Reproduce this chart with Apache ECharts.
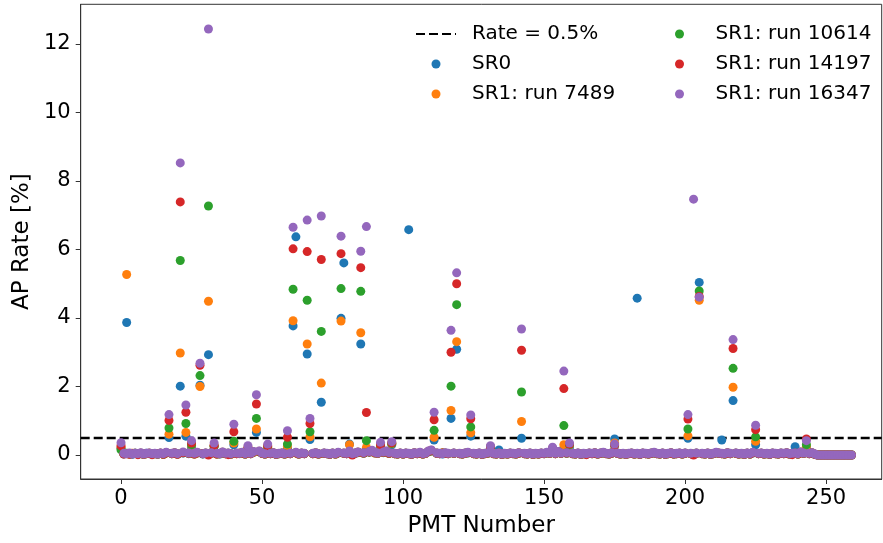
<!DOCTYPE html>
<html>
<head>
<meta charset="utf-8">
<script src="https://cdn.jsdelivr.net/npm/echarts@6/dist/echarts.min.js"></script>
<style>
  html, body { margin: 0; padding: 0; background: #fff; }
  #chart { width: 883px; height: 543px; }
</style>
</head>
<body>
<div id="chart"></div>
<script>
// Afterpulse rate per PMT (index = PMT number, 0..259), in percent.
const seriesNames = ['SR0', 'SR1: run 7489', 'SR1: run 10614', 'SR1: run 14197', 'SR1: run 16347'];
const seriesColors = ['#1f77b4', '#ff7f0e', '#2ca02c', '#d62728', '#9467bd'];

const apSR0 = [
  0.20,0.03,3.87,0.04,0.02,0.05,0.03,0.04,0.02,0.05,0.04,0.03,0.04,0.02,0.05,0.03,0.06,0.51,0.04,0.05,
  0.03,2.01,0.06,0.55,0.04,0.22,0.04,0.06,2.04,0.03,0.05,2.93,0.05,0.26,0.04,0.03,0.07,0.04,0.05,0.03,
  0.30,0.05,0.04,0.06,0.03,0.15,0.04,0.08,0.66,0.09,0.05,0.03,0.18,0.04,0.05,0.02,0.04,0.05,0.03,0.20,
  0.04,3.77,6.37,0.03,0.05,0.04,2.95,0.45,0.04,0.05,0.03,1.54,0.05,0.04,0.02,0.05,0.03,0.06,3.99,5.61,
  0.04,0.32,0.03,0.05,0.07,3.24,0.05,0.15,0.08,0.10,0.06,0.05,0.20,0.07,0.09,0.05,0.30,0.04,0.03,0.05,
  0.03,0.05,6.58,0.02,0.05,0.04,0.06,0.03,0.05,0.09,0.11,0.44,0.05,0.04,0.03,0.05,0.04,1.07,0.05,3.09,
  0.04,0.03,0.05,0.06,0.55,0.04,0.03,0.05,0.02,0.04,0.05,0.15,0.04,0.03,0.15,0.02,0.04,0.03,0.05,0.04,
  0.03,0.05,0.49,0.04,0.03,0.05,0.02,0.04,0.03,0.05,0.04,0.06,0.05,0.12,0.04,0.08,0.05,0.20,0.05,0.22,
  0.04,0.03,0.05,0.02,0.04,0.03,0.05,0.04,0.05,0.03,0.05,0.06,0.04,0.03,0.05,0.47,0.05,0.03,0.04,0.02,
  0.04,0.05,0.03,4.58,0.02,0.05,0.04,0.03,0.05,0.06,0.04,0.03,0.05,0.02,0.04,0.05,0.03,0.04,0.05,0.03,
  0.05,0.49,0.04,0.02,0.05,5.04,0.04,0.03,0.05,0.02,0.04,0.06,0.05,0.44,0.03,0.05,0.04,1.59,0.05,0.03,
  0.04,0.02,0.05,0.03,0.06,0.30,0.04,0.05,0.03,0.04,0.02,0.05,0.04,0.03,0.05,0.04,0.05,0.03,0.04,0.24,
  0.03,0.07,0.05,0.20,0.04,0.05,0.02,0.00,0.00,0.00,0.00,0.00,0.00,0.00,0.00,0.00,0.00,0.00,0.00,0.00
];

const apRun7489 = [
  0.22,0.04,5.27,0.03,0.05,0.04,0.03,0.05,0.02,0.04,0.05,0.03,0.04,0.03,0.05,0.02,0.06,0.61,0.04,0.06,
  0.03,2.98,0.07,0.66,0.05,0.28,0.03,0.06,2.00,0.04,0.05,4.49,0.06,0.27,0.03,0.04,0.07,0.04,0.05,0.03,
  0.35,0.04,0.05,0.06,0.03,0.18,0.04,0.08,0.76,0.10,0.05,0.03,0.22,0.04,0.06,0.02,0.04,0.05,0.03,0.25,
  0.04,3.92,0.06,0.03,0.05,0.04,3.24,0.53,0.04,0.06,0.03,2.10,0.05,0.04,0.02,0.05,0.03,0.07,3.91,0.05,
  0.04,0.30,0.03,0.05,0.08,3.57,0.06,0.22,0.09,0.11,0.06,0.05,0.25,0.08,0.10,0.05,0.33,0.04,0.03,0.05,
  0.03,0.05,0.04,0.02,0.06,0.04,0.07,0.03,0.05,0.10,0.12,0.52,0.05,0.04,0.06,0.05,0.04,1.30,0.05,3.31,
  0.04,0.03,0.05,0.07,0.65,0.04,0.03,0.05,0.02,0.04,0.06,0.20,0.04,0.03,0.05,0.02,0.04,0.03,0.05,0.04,
  0.03,0.06,0.98,0.04,0.03,0.05,0.02,0.04,0.03,0.05,0.04,0.07,0.05,0.16,0.04,0.09,0.05,0.30,0.06,0.28,
  0.04,0.03,0.05,0.02,0.04,0.03,0.05,0.04,0.06,0.03,0.05,0.07,0.04,0.03,0.06,0.35,0.05,0.03,0.04,0.02,
  0.04,0.05,0.03,0.04,0.02,0.05,0.04,0.03,0.05,0.07,0.04,0.03,0.05,0.02,0.04,0.06,0.03,0.04,0.05,0.03,
  0.05,0.56,0.04,0.02,0.05,4.52,0.04,0.03,0.05,0.02,0.04,0.07,0.05,0.04,0.03,0.06,0.04,1.98,0.05,0.03,
  0.04,0.02,0.05,0.03,0.07,0.40,0.04,0.05,0.03,0.04,0.02,0.05,0.04,0.03,0.05,0.04,0.06,0.03,0.04,0.05,
  0.03,0.08,0.05,0.25,0.04,0.06,0.02,0.00,0.00,0.00,0.00,0.00,0.00,0.00,0.00,0.00,0.00,0.00,0.00,0.00
];

const apRun10614 = [
  0.15,0.04,0.05,0.03,0.04,0.05,0.03,0.05,0.02,0.04,0.05,0.03,0.04,0.03,0.05,0.02,0.07,0.79,0.04,0.06,
  0.03,5.68,0.07,0.92,0.05,0.30,0.03,0.07,2.32,0.04,0.05,7.27,0.06,0.25,0.03,0.04,0.08,0.04,0.05,0.03,
  0.40,0.04,0.05,0.07,0.03,0.20,0.04,0.09,1.07,0.10,0.05,0.03,0.24,0.04,0.06,0.02,0.04,0.05,0.03,0.32,
  0.04,4.84,0.07,0.03,0.05,0.04,4.52,0.68,0.04,0.06,0.03,3.61,0.05,0.04,0.02,0.05,0.03,0.07,4.86,0.05,
  0.04,0.10,0.03,0.05,0.08,4.78,0.06,0.42,0.09,0.12,0.07,0.05,0.28,0.08,0.10,0.05,0.34,0.04,0.03,0.05,
  0.03,0.05,0.04,0.02,0.06,0.04,0.07,0.03,0.05,0.10,0.13,0.72,0.05,0.04,0.06,0.05,0.04,2.01,0.05,4.39,
  0.04,0.03,0.05,0.07,0.82,0.04,0.03,0.05,0.02,0.04,0.06,0.22,0.04,0.03,0.05,0.02,0.04,0.03,0.05,0.04,
  0.03,0.06,1.84,0.04,0.03,0.05,0.02,0.04,0.03,0.05,0.04,0.07,0.05,0.18,0.04,0.09,0.05,0.86,0.06,0.30,
  0.04,0.03,0.05,0.02,0.04,0.03,0.05,0.04,0.06,0.03,0.05,0.07,0.04,0.03,0.06,0.27,0.05,0.03,0.04,0.02,
  0.04,0.05,0.03,0.04,0.02,0.05,0.04,0.03,0.05,0.07,0.04,0.03,0.05,0.02,0.04,0.06,0.03,0.04,0.05,0.03,
  0.05,0.76,0.04,0.02,0.05,4.79,0.04,0.03,0.05,0.02,0.04,0.07,0.05,0.04,0.03,0.06,0.04,2.53,0.05,0.03,
  0.04,0.02,0.05,0.03,0.07,0.53,0.04,0.05,0.03,0.04,0.02,0.05,0.04,0.03,0.05,0.04,0.06,0.03,0.04,0.05,
  0.03,0.08,0.05,0.30,0.04,0.06,0.02,0.00,0.00,0.00,0.00,0.00,0.00,0.00,0.00,0.00,0.00,0.00,0.00,0.00
];

const apRun14197 = [
  0.27,0.03,0.04,0.02,0.04,0.05,0.01,0.05,0.02,0.04,0.05,0.01,0.04,0.03,0.05,0.02,0.07,1.01,0.04,0.06,
  0.02,7.39,0.07,1.25,0.05,0.35,0.03,0.07,2.62,0.04,0.05,0.00,0.06,0.28,0.03,0.04,0.08,0.04,0.01,0.03,
  0.68,0.04,0.05,0.07,0.03,0.22,0.04,0.09,1.49,0.11,0.05,0.03,0.27,0.04,0.06,0.02,0.04,0.05,0.03,0.52,
  0.04,6.02,0.07,0.03,0.05,0.04,5.94,0.92,0.04,0.06,0.03,5.71,0.05,0.04,0.02,0.05,0.03,0.07,5.88,0.05,
  0.04,0.10,0.00,0.05,0.08,5.47,0.06,1.24,0.09,0.12,0.07,0.05,0.30,0.08,0.11,0.05,0.36,0.04,0.03,0.05,
  0.03,0.05,0.04,0.02,0.06,0.04,0.07,0.03,0.05,0.11,0.14,1.03,0.05,0.04,0.06,0.05,0.04,3.00,0.05,5.00,
  0.04,0.03,0.05,0.07,1.06,0.04,0.03,0.05,0.02,0.04,0.06,0.24,0.04,0.03,0.05,0.02,0.04,0.03,0.05,0.04,
  0.03,0.06,3.06,0.04,0.03,0.05,0.02,0.04,0.03,0.05,0.04,0.07,0.05,0.20,0.04,0.09,0.05,1.94,0.06,0.32,
  0.04,0.03,0.05,0.02,0.04,0.01,0.05,0.04,0.06,0.03,0.05,0.07,0.04,0.03,0.06,0.29,0.05,0.03,0.04,0.02,
  0.04,0.05,0.03,0.04,0.02,0.05,0.04,0.03,0.05,0.07,0.04,0.03,0.05,0.02,0.04,0.06,0.03,0.04,0.05,0.03,
  0.05,1.05,0.04,0.00,0.05,4.63,0.04,0.03,0.05,0.02,0.04,0.07,0.05,0.04,0.03,0.06,0.04,3.11,0.05,0.03,
  0.04,0.02,0.05,0.03,0.07,0.74,0.04,0.05,0.03,0.04,0.02,0.05,0.04,0.03,0.05,0.04,0.06,0.03,0.01,0.05,
  0.03,0.08,0.05,0.47,0.04,0.06,0.02,0.00,0.00,0.00,0.00,0.00,0.00,0.00,0.00,0.00,0.00,0.00,0.00,0.00
];

const apRun16347 = [
  0.36,0.05,0.04,0.06,0.03,0.05,0.04,0.07,0.03,0.05,0.06,0.04,0.05,0.03,0.06,0.04,0.08,1.18,0.05,0.07,
  0.04,8.53,0.09,1.46,0.06,0.42,0.05,0.08,2.68,0.04,0.06,12.44,0.07,0.35,0.05,0.04,0.09,0.05,0.06,0.04,
  0.90,0.06,0.05,0.08,0.04,0.27,0.05,0.10,1.76,0.12,0.06,0.04,0.32,0.05,0.07,0.03,0.05,0.06,0.04,0.71,
  0.05,6.65,0.08,0.04,0.06,0.05,6.86,1.07,0.05,0.07,0.04,6.98,0.06,0.05,0.03,0.06,0.04,0.08,6.39,0.06,
  0.05,0.12,0.04,0.06,0.09,5.95,0.07,6.67,0.10,0.14,0.08,0.06,0.37,0.09,0.12,0.07,0.39,0.05,0.04,0.06,
  0.04,0.06,0.05,0.03,0.07,0.05,0.08,0.04,0.06,0.12,0.15,1.25,0.06,0.05,0.04,0.07,0.05,3.64,0.06,5.32,
  0.05,0.04,0.06,0.08,1.17,0.05,0.04,0.06,0.03,0.05,0.07,0.27,0.05,0.04,0.06,0.03,0.05,0.04,0.06,0.05,
  0.04,0.07,3.68,0.05,0.04,0.06,0.03,0.05,0.04,0.06,0.05,0.08,0.06,0.23,0.05,0.10,0.06,2.45,0.07,0.35,
  0.05,0.04,0.06,0.03,0.05,0.04,0.06,0.05,0.07,0.04,0.06,0.08,0.05,0.04,0.07,0.32,0.06,0.04,0.05,0.03,
  0.05,0.06,0.04,0.05,0.03,0.06,0.05,0.04,0.06,0.08,0.05,0.04,0.06,0.03,0.05,0.07,0.04,0.05,0.06,0.04,
  0.06,1.18,0.05,7.47,0.06,4.61,0.05,0.04,0.06,0.03,0.05,0.08,0.06,0.05,0.04,0.07,0.05,3.37,0.06,0.04,
  0.05,0.03,0.06,0.04,0.08,0.87,0.05,0.06,0.04,0.05,0.03,0.06,0.05,0.04,0.06,0.05,0.07,0.04,0.05,0.06,
  0.04,0.09,0.06,0.42,0.05,0.07,0.03,0.00,0.00,0.00,0.00,0.00,0.00,0.00,0.00,0.00,0.00,0.00,0.00,0.00
];

const seriesValues = [apSR0, apRun7489, apRun10614, apRun14197, apRun16347];

// Reference threshold and axis settings
const rateThreshold = 0.5;
const rateLabel = 'Rate = 0.5%';
const xRange = [-14.3, 269.7];
const yRange = [-0.70, 13.16];
const xTicks = [0, 50, 100, 150, 200, 250];
const yTicks = [0, 2, 4, 6, 8, 10, 12];

const FONT = 'DejaVu Sans';

function toPoints(values) {
  return values.map((v, i) => [i, v]);
}

const scatterSeries = seriesNames.map((name, k) => ({
  name: name,
  type: 'scatter',
  data: toPoints(seriesValues[k]),
  symbol: 'circle',
  symbolSize: 9,
  itemStyle: { color: seriesColors[k], opacity: 1 },
  emphasis: { disabled: true },
  z: 3
}));

const thresholdSeries = {
  name: rateLabel,
  type: 'line',
  data: [[xRange[0], rateThreshold], [xRange[1], rateThreshold]],
  symbol: 'none',
  showSymbol: false,
  silent: true,
  lineStyle: { color: '#000', width: 2.5, type: [9, 4] },
  itemStyle: { color: '#000' },
  z: 2
};

const legendCommon = {
  orient: 'vertical',
  align: 'left',
  padding: 0,
  itemWidth: 40,
  itemHeight: 9,
  itemGap: 10,
  selectedMode: false,
  textStyle: { fontFamily: FONT, fontSize: 20, color: '#000', padding: [0, 0, 0, 11], lineHeight: 20 }
};

const chart = echarts.init(document.getElementById('chart'), null, { renderer: 'canvas' });
chart.setOption({
  animation: false,
  backgroundColor: '#fff',
  grid: {
    left: 80.7, right: 1.3, top: 4.3, bottom: 63,
    show: true, borderColor: '#333', borderWidth: 1, backgroundColor: 'transparent'
  },
  legend: [
    Object.assign({}, legendCommon, {
      left: 415, top: 24, width: 200, height: 100,
      data: [
        { name: rateLabel, itemStyle: { color: 'rgba(0,0,0,0)', borderWidth: 0 } },
        seriesNames[0], seriesNames[1]
      ]
    }),
    Object.assign({}, legendCommon, {
      left: 675, top: 24, width: 205, height: 100,
      data: [seriesNames[2], seriesNames[3], seriesNames[4]]
    })
  ],
  xAxis: {
    type: 'value',
    min: xRange[0], max: xRange[1],
    name: 'PMT Number',
    nameLocation: 'middle',
    nameGap: 36,
    nameTextStyle: { fontFamily: FONT, fontSize: 23, color: '#000' },
    axisLine: { show: true, onZero: false, lineStyle: { color: '#333', width: 1 } },
    axisTick: { show: true, length: 5, customValues: xTicks, lineStyle: { color: '#333' } },
    axisLabel: { customValues: xTicks, fontFamily: FONT, fontSize: 21, color: '#000', margin: 9 },
    splitLine: { show: false }
  },
  yAxis: {
    type: 'value',
    min: yRange[0], max: yRange[1],
    name: 'AP Rate [%]',
    nameLocation: 'middle',
    nameGap: 32,
    nameTextStyle: { fontFamily: FONT, fontSize: 23, color: '#000' },
    axisLine: { show: true, onZero: false, lineStyle: { color: '#333', width: 1 } },
    axisTick: { show: true, length: 5, customValues: yTicks, lineStyle: { color: '#333' } },
    axisLabel: { customValues: yTicks, fontFamily: FONT, fontSize: 21, color: '#000', margin: 10 },
    splitLine: { show: false }
  },
  series: [thresholdSeries].concat(scatterSeries)
});
</script>
</body>
</html>
